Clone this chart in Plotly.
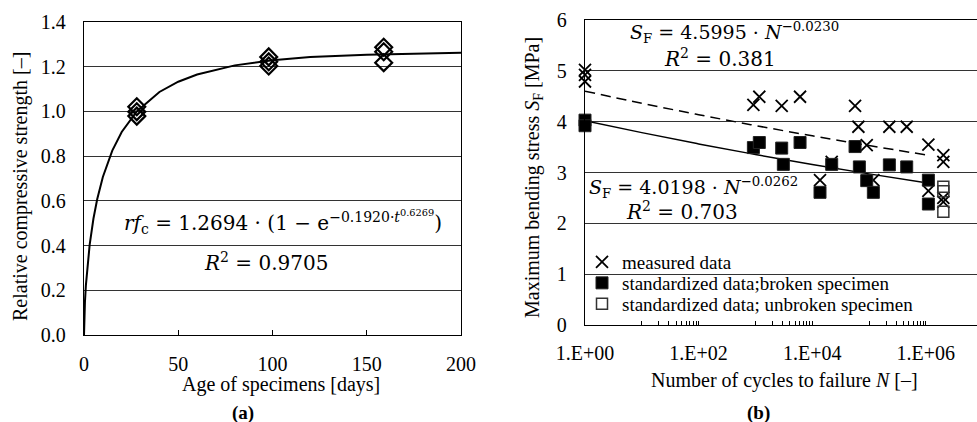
import plotly.graph_objects as go

W, H = 977, 422

# ---------------- data: panel (a) ----------------
age_days = [28, 28, 28, 98, 98, 98, 159, 159, 159]
rel_strength = [1.021, 0.999, 0.979, 1.244, 1.222, 1.203, 1.287, 1.267, 1.218]
# fitted curve rfc = 1.2694*(1-exp(-0.1920*t^0.6269)), values read/sampled
fit_t = [0, 0.1, 0.25, 0.5, 1, 2, 3, 5, 7, 10, 15, 20, 28, 40, 50, 60, 80, 100, 120, 150, 200]
fit_rfc = [0, 0.056, 0.098, 0.148, 0.222, 0.326, 0.403, 0.520, 0.607, 0.707, 0.825, 0.908,
           1.000, 1.087, 1.133, 1.165, 1.206, 1.229, 1.243, 1.254, 1.263]
x_ticks_a = [0, 50, 100, 150, 200]

# ---------------- data: panel (b) ----------------
measured_N = [1, 1, 1, 920, 1170, 2900, 6100, 13700, 22000, 56700, 64900, 91000, 119000,
              227600, 460000, 1.107e6, 1.107e6, 2.03e6, 2.03e6, 2.03e6, 2.03e6]
measured_S = [5.02, 4.92, 4.79, 4.33, 4.49, 4.31, 4.49, 2.85, 3.21, 4.31, 3.90, 3.54, 2.85,
              3.90, 3.90, 3.55, 2.64, 3.34, 3.21, 2.50, 2.42]
broken_N = [1, 1, 920, 1170, 2900, 3100, 6100, 13700, 22000, 56700, 67500, 91000, 119000,
            227600, 460000, 1.107e6, 1.107e6]
broken_S = [4.03, 3.92, 3.49, 3.59, 3.48, 3.16, 3.59, 2.61, 3.16, 3.51, 3.11, 2.84, 2.61,
            3.15, 3.11, 2.85, 2.38]
unbroken_N = [2.03e6, 2.03e6, 2.03e6]
unbroken_S = [2.72, 2.63, 2.23]
fit_N = [1, 10, 100, 1e3, 1e4, 1e5, 1e6]
fit_measured = [4.5995, 4.3623, 4.1373, 3.9239, 3.7215, 3.5296, 3.3475]
fit_standard = [4.0198, 3.7845, 3.5629, 3.3543, 3.1580, 2.9731, 2.7990]
x_major_b = [1, 100, 1e4, 1e6]
x_major_labels_b = ["1.E+00", "1.E+02", "1.E+04", "1.E+06"]
x_minor_b = [10, 20, 30, 40, 50, 60, 70, 80, 90,
             1e3, 2e3, 3e3, 4e3, 5e3, 6e3, 7e3, 8e3, 9e3,
             1e5, 2e5, 3e5, 4e5, 5e5, 6e5, 7e5, 8e5, 9e5]

FONT = "Liberation Serif"
EQFONT = "DejaVu Serif"


def px(x, y):
    return x / W, 1 - y / H


fig = go.Figure()

# panel (a)
fig.add_trace(go.Scatter(x=fit_t, y=fit_rfc, mode="lines", line=dict(color="black", width=2),
                         xaxis="x", yaxis="y", showlegend=False, hoverinfo="skip"))
fig.add_trace(go.Scatter(x=age_days, y=rel_strength, mode="markers",
                         marker=dict(symbol="diamond-open", size=13, color="black",
                                     line=dict(width=2.2, color="black")),
                         xaxis="x", yaxis="y", showlegend=False, cliponaxis=False))

# panel (b)
fig.add_trace(go.Scatter(x=fit_N, y=fit_measured, mode="lines",
                         line=dict(color="black", width=1.5, dash="10px,6px"),
                         xaxis="x2", yaxis="y2", showlegend=False, line_shape="spline", hoverinfo="skip"))
fig.add_trace(go.Scatter(x=fit_N, y=fit_standard, mode="lines", line=dict(color="black", width=1.5),
                         xaxis="x2", yaxis="y2", showlegend=False, line_shape="spline", hoverinfo="skip"))
fig.add_trace(go.Scatter(x=measured_N, y=measured_S, mode="markers", name="measured data",
                         marker=dict(symbol="x-thin-open", size=12, color="black",
                                     line=dict(width=1.8, color="black")),
                         xaxis="x2", yaxis="y2", cliponaxis=False, legend="legend"))
fig.add_trace(go.Scatter(x=broken_N, y=broken_S, mode="markers", name="standardized data;broken specimen",
                         marker=dict(symbol="square", size=12, color="black",
                                     line=dict(width=1, color="#222")),
                         xaxis="x2", yaxis="y2", cliponaxis=False, legend="legend2"))
fig.add_trace(go.Scatter(x=unbroken_N, y=unbroken_S, mode="markers", name="standardized data; unbroken specimen",
                         marker=dict(symbol="square-open", size=11, color="#333",
                                     line=dict(width=1.5, color="#333")),
                         xaxis="x2", yaxis="y2", cliponaxis=False, legend="legend3"))

tickfont = dict(family=FONT, size=20, color="black")
legfont = dict(family=FONT, size=19, color="black")


def leg(y):
    return dict(x=582 / W, y=1 - y / H, xanchor="left", yanchor="middle", font=legfont,
                bgcolor="rgba(0,0,0,0)", itemwidth=30, tracegroupgap=0)


fig.update_layout(
    width=W, height=H,
    margin=dict(l=0, r=0, t=0, b=0, autoexpand=False),
    paper_bgcolor="white", plot_bgcolor="white",
    font=dict(family=FONT, size=20, color="black"),
    xaxis=dict(domain=[84 / W, 461 / W], range=[0, 200], tickvals=x_ticks_a,
               ticks="inside", ticklen=5, tickcolor="black", showline=True, linecolor="black",
               linewidth=1.3, mirror=True, showgrid=False, zeroline=False, tickfont=tickfont,
               ticklabelstandoff=11, anchor="y", automargin=False),
    yaxis=dict(domain=[1 - 335 / H, 1 - 22 / H], range=[0, 1.4], dtick=0.2, tickformat=".1f",
               ticks="", showline=True, linecolor="black", linewidth=1.3, mirror=True,
               showgrid=True, gridcolor="#333", gridwidth=1, zeroline=False, tickfont=tickfont,
               ticklabelstandoff=13, anchor="x", automargin=False),
    xaxis2=dict(domain=[585 / W, 1.0], type="log", range=[0, 6.9],
                tickvals=x_major_b, ticktext=x_major_labels_b,
                ticks="inside", ticklen=4, tickcolor="black", showline=True, linecolor="black",
                linewidth=1.3, mirror=True, showgrid=False, zeroline=False, tickfont=tickfont,
                ticklabelstandoff=10, anchor="y2", automargin=False,
                minor=dict(tickvals=x_minor_b, ticks="inside", ticklen=4, tickcolor="black", showgrid=False)),
    yaxis2=dict(domain=[1 - 325 / H, 1 - 20 / H], range=[0, 6], dtick=1,
                ticks="", showline=True, linecolor="black", linewidth=1.3, mirror=False,
                showgrid=True, gridcolor="#333", gridwidth=1, zeroline=False, tickfont=tickfont,
                ticklabelstandoff=13, anchor="x2", automargin=False),
    legend=leg(262),
    legend2=leg(283),
    legend3=leg(304),
)

ann = []


def add_text(text, x, y, size=20, xanchor="center", angle=0, family=FONT):
    xx, yy = px(x, y)
    ann.append(dict(text=text, x=xx, y=yy, xref="paper", yref="paper", showarrow=False,
                    xanchor=xanchor, yanchor="middle", textangle=angle,
                    font=dict(family=family, size=size, color="black")))


# axis titles
add_text("Relative compressive strength [–]", 20, 187, angle=-90)
add_text("Age of specimens [days]", 281, 384)
add_text("Maximum bending stress <i>S</i><sub>F</sub> [MPa]", 533, 178, angle=-90)
add_text("Number of cycles to failure <i>N</i> [–]", 784, 380)
add_text("<b>(a)</b>", 243, 413, size=19)
add_text("<b>(b)</b>", 758, 413, size=19)

# equations
add_text("<i>rf</i><sub>c</sub> = 1.2694 · (1 − e<sup>−0.1920·<i>t</i><sup>0.6269</sup></sup>)",
         283, 222, size=20, family=EQFONT)
add_text("<i>R</i><sup>2</sup> = 0.9705", 266, 262, size=20, family=EQFONT)
add_text("<i>S</i><sub>F</sub> = 4.5995 · <i>N</i><sup>−0.0230</sup>", 628, 33, size=19,
         xanchor="left", family=EQFONT)
add_text("<i>R</i><sup>2</sup> = 0.381", 720, 58, size=20, family=EQFONT)
add_text("<i>S</i><sub>F</sub> = 4.0198 · <i>N</i><sup>−0.0262</sup>", 587, 187, size=19,
         xanchor="left", family=EQFONT)
add_text("<i>R</i><sup>2</sup> = 0.703", 682, 211, size=20, family=EQFONT)

fig.update_layout(annotations=ann)
fig.write_html("out.html", config={"displayModeBar": False},
               post_script="document.body.style.margin='0px';")
